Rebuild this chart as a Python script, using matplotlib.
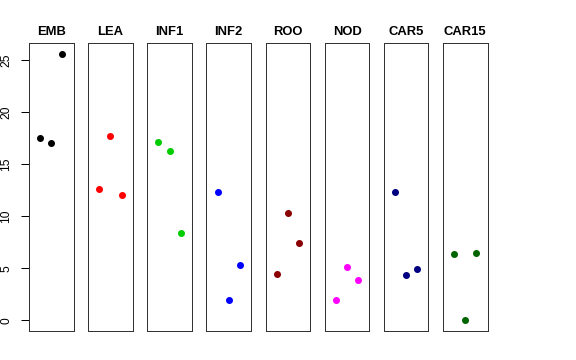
import matplotlib
matplotlib.use("Agg")
import matplotlib.pyplot as plt

categories = ["EMB", "LEA", "INF1", "INF2", "ROO", "NOD", "CAR5", "CAR15"]
values = {
    "EMB":   [17.46, 17.03, 25.55],
    "LEA":   [12.65, 17.72, 12.08],
    "INF1":  [17.11, 16.25, 8.37],
    "INF2":  [12.36, 1.93, 5.31],
    "ROO":   [4.45, 10.32, 7.38],
    "NOD":   [1.93, 5.15, 3.84],
    "CAR5":  [12.33, 4.39, 4.96],
    "CAR15": [6.33, 0.02, 6.49],
}
colors = ["#000000", "#FF0000", "#00CD00", "#0000FF", "#8B0000", "#FF00FF", "#000080", "#006400"]
yticks = [0, 5, 10, 15, 20, 25]

plt.rcParams['font.family'] = ['Liberation Sans', 'DejaVu Sans']
fig = plt.figure(figsize=(8, 5), dpi=72)
W, H = 576, 360
left0, width, step = 29, 44.5, 59.15
top, bottom = 43, 331
ymin, ymax = -1.02, 26.62
for i, cat in enumerate(categories):
    x0 = left0 + i * step
    ax = fig.add_axes([x0 / W, (H - bottom) / H, width / W, (bottom - top) / H])
    ax.plot([1, 2, 3], values[cat], 'o', color=colors[i], markersize=7, markeredgewidth=0)
    ax.set_xlim(0, 4)
    ax.set_ylim(ymin, ymax)
    ax.set_xticks([])
    ax.set_title(cat, fontsize=13, fontweight='bold', pad=8)
    for s in ax.spines.values():
        s.set_linewidth(1)
        s.set_color('#333333')
    if i == 0:
        ax.set_yticks(yticks)
        ax.set_yticklabels([str(t) for t in yticks], rotation=90, va='center', fontsize=12)
        ax.tick_params(axis='y', length=8, width=1, pad=9, colors='black')
    else:
        ax.set_yticks([])

fig.savefig("out.png", dpi=72)
